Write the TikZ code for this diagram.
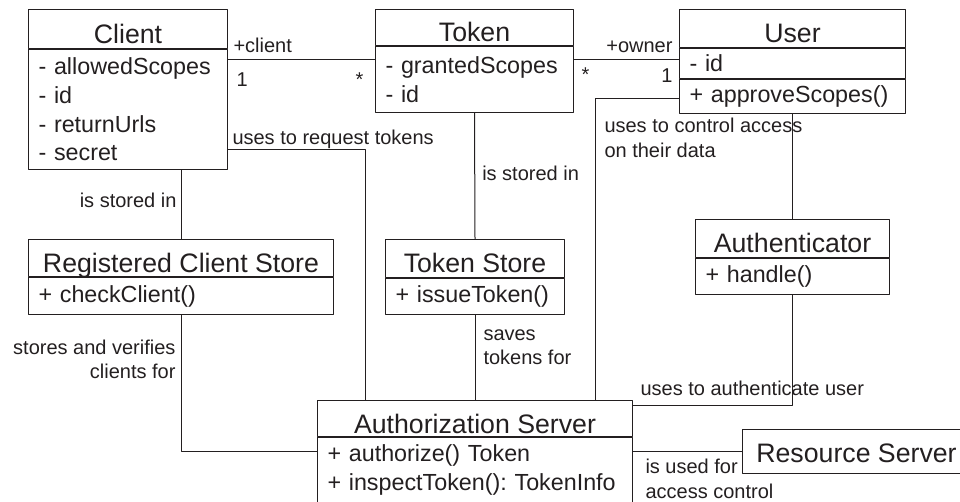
\documentclass[tikz,border=0pt]{standalone}
\usepackage{fontspec}
\setmainfont{Liberation Sans}
\definecolor{ink}{HTML}{231F20}
\begin{document}
\frenchspacing
\begin{tikzpicture}[x=1pt, y=-1pt, color=ink, line width=1pt, line join=round, line cap=round,
  head/.style={draw, anchor=north west, inner sep=0pt, text height=29pt, text depth=0pt, font=\fontsize{26.7}{30}\selectfont},
  body/.style={draw, anchor=north west, inner xsep=10pt, inner ysep=0pt, align=left, font=\fontsize{23.3}{28.6}\selectfont},
  lbl/.style={inner sep=0pt, font=\fontsize{20}{24.5}\selectfont}]
\useasboundingbox (0,0) rectangle (960,502);
\node[head, minimum width=199, minimum height=39] (client) at (28,9) {Client};
\node[body, text width=179pt, minimum height=120] (clientb) at (client.south west) {- allowedScopes\\- id\\- returnUrls\\- secret};
\node[head, minimum width=198, minimum height=36] (token) at (375,9) {Token};
\node[body, text width=178pt, minimum height=66] (tokenb) at (token.south west) {- grantedScopes\\- id};
\node[head, minimum width=226, minimum height=38] (user) at (679,9) {User};
\node[body, text width=206pt, minimum height=30] (usera) at (user.south west) {- id};
\node[body, text width=206pt, minimum height=34] (userm) at (usera.south west) {+ approveScopes()};
\node[head, minimum width=305, minimum height=37] (rcs) at (28,239) {Registered Client Store};
\node[body, text width=285pt, minimum height=37] (rcsm) at (rcs.south west) {+ checkClient()};
\node[head, minimum width=179, minimum height=38] (tstore) at (385,239) {Token Store};
\node[body, text width=159pt, minimum height=36] (tstorem) at (tstore.south west) {+ issueToken()};
\node[head, minimum width=194, minimum height=38] (authn) at (695,219) {Authenticator};
\node[body, text width=174pt, minimum height=36] (authnm) at (authn.south west) {+ handle()};
\node[head, minimum width=315, minimum height=36] (auth) at (317,400) {Authorization Server};
\node[body, text width=295pt, minimum height=65] (authm) at (auth.south west) {+ authorize() Token\\+ inspectToken(): TokenInfo};
\node[head, minimum width=228, minimum height=44, text height=22pt] (res) at (742,429) {Resource Server};
\draw (clientb.east |- 0,60) -- (tokenb.west |- 0,60)
  node[lbl, pos=0, anchor=base west, xshift=5pt, yshift=7pt] {+client}
  node[lbl, pos=0, anchor=base west, xshift=8pt, yshift=-27pt] {1}
  node[lbl, pos=1, anchor=base east, xshift=-11pt, yshift=-27pt] {*};
\draw (tokenb.east |- 0,60) -- (usera.west |- 0,60)
  node[lbl, pos=0, anchor=base west, xshift=7pt, yshift=-22pt] {*}
  node[lbl, pos=1, anchor=base east, xshift=-6pt, yshift=7pt] {+owner}
  node[lbl, pos=1, anchor=base east, xshift=-6pt, yshift=-23pt] {1};
\draw (clientb.east |- 0,150) -| (auth.north -| 365,0) node[lbl, pos=0, anchor=base west, xshift=4pt, yshift=5pt] {uses to request tokens};
\draw (userm.west |- 0,99) -| (auth.north -| 595,0) node[lbl, pos=0.5, anchor=base west, xshift=9pt, yshift=-58.5pt, align=left] {uses to control access\\on their data};
\draw (userm.south) -- (authn.north);
\draw (authnm.south) |- (auth.east |- 0,405) node[lbl, pos=1, anchor=base west, xshift=7pt, yshift=10pt] {uses to authenticate user};
\draw (tokenb.south) -- (tstore.north) node[lbl, midway, anchor=base west, xshift=7pt, yshift=-5pt] {is stored in};
\draw (tstorem.south) -- (auth.north -| tstorem.south) node[lbl, pos=0, anchor=base west, xshift=8pt, yshift=-49.5pt, align=left] {saves\\tokens for};
\draw (clientb.south -| rcs.north) -- (rcs.north) node[lbl, midway, anchor=base east, xshift=-4pt, yshift=-3pt] {is stored in};
\draw (rcsm.south) |- (auth.west |- 0,451) node[lbl, pos=0, anchor=base east, xshift=-5pt, yshift=-63.5pt, align=right] {stores and verifies\\clients for};
\draw (auth.east |- res.west) -- (res.west) node[lbl, pos=0, anchor=base west, xshift=12pt, yshift=-46.5pt, align=left] {is used for\\access control};
\end{tikzpicture}
\end{document}
